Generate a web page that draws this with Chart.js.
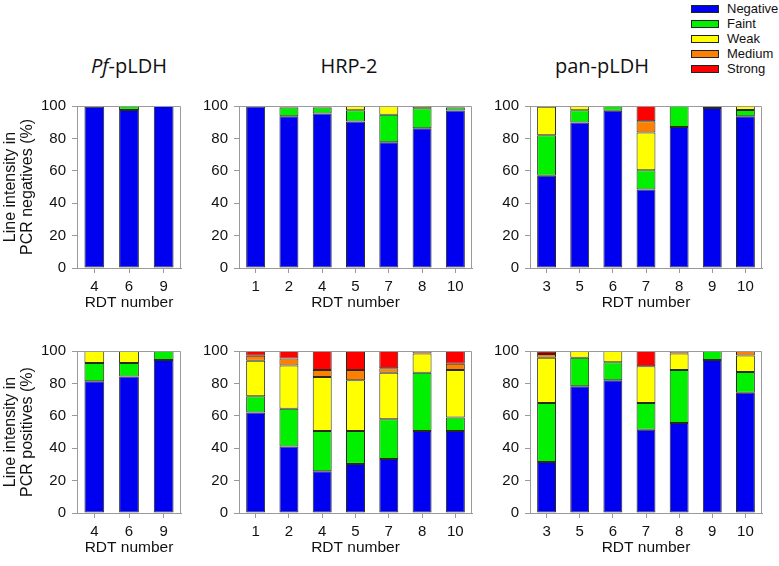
<!DOCTYPE html>
<html lang="en">
<head>
<meta charset="UTF-8">
<title>Line intensity per RDT</title>
<script src="https://cdn.jsdelivr.net/npm/chart.js"></script>
<style>
    body {
        margin: 0;
        width: 779px;
        height: 566px;
        position: relative;
        overflow: hidden;
        background: #fff;
        font-family: 'Liberation Sans', Arial, sans-serif;
        color: #111;
    }
    .painel { position: absolute; }
    .titulo {
        position: absolute;
        top: 54px;
        font-family: 'Open Sans', sans-serif;
        font-size: 20px;
        line-height: 24px;
        white-space: nowrap;
        transform: translateX(-50%);
    }
    #legenda { position: absolute; left: 691px; top: 1px; }
    .item {
        position: absolute;
        left: 0;
        height: 15px;
        line-height: 15px;
        font-size: 13px;
        white-space: nowrap;
    }
    .caixa {
        display: inline-block;
        width: 26px;
        height: 6px;
        border: 1px solid #222;
        margin-right: 8px;
        vertical-align: middle;
        position: relative;
        top: -1px;
    }
</style>
</head>
<body>
<div class="titulo" style="left:129px"><i>Pf</i>-pLDH</div>
<div class="titulo" style="left:349px">HRP-2</div>
<div class="titulo" style="left:602px">pan-pLDH</div>
<div id="legenda"></div>

<script>
    const seriesNames = ['Negative', 'Faint', 'Weak', 'Medium', 'Strong'];
    const seriesColors = ['#0000f0', '#00f000', '#ffff00', '#ff8000', '#ff0000'];

    const pfRdt = ['4', '6', '9'];
    const hrpRdt = ['1', '2', '4', '5', '7', '8', '10'];
    const panRdt = ['3', '5', '6', '7', '8', '9', '10'];
    const yTicks = [0, 20, 40, 60, 80, 100];

    // PCR negatives (%)
    const pfNegNegative = [99.6, 97.6, 100];
    const pfNegFaint = [0.4, 2.4, 0];
    const pfNegWeak = [0, 0, 0];
    const pfNegMedium = [0, 0, 0];
    const pfNegStrong = [0, 0, 0];

    const hrpNegNegative = [99.7, 93.6, 95.4, 90.4, 77.7, 86.3, 97.2];
    const hrpNegFaint = [0.3, 5.4, 3.6, 7.0, 16.9, 12.3, 1.8];
    const hrpNegWeak = [0, 1.0, 1.0, 2.6, 5.4, 1.4, 1.0];
    const hrpNegMedium = [0, 0, 0, 0, 0, 0, 0];
    const hrpNegStrong = [0, 0, 0, 0, 0, 0, 0];

    const panNegNegative = [57.0, 89.8, 97.0, 48.4, 87.0, 98.8, 93.6];
    const panNegFaint = [24.9, 7.6, 3.0, 12.0, 13.0, 1.2, 4.0];
    const panNegWeak = [17.6, 2.6, 0, 23.3, 0, 0, 2.4];
    const panNegMedium = [0.3, 0, 0, 6.9, 0, 0, 0];
    const panNegStrong = [0.2, 0, 0, 9.4, 0, 0, 0];

    // PCR positives (%)
    const pfPosNegative = [81.3, 84.3, 94.4];
    const pfPosFaint = [11.3, 8.3, 5.6];
    const pfPosWeak = [7.4, 7.4, 0];
    const pfPosMedium = [0, 0, 0];
    const pfPosStrong = [0, 0, 0];

    const hrpPosNegative = [62.0, 41.0, 25.7, 30.3, 33.3, 50.6, 50.6];
    const hrpPosFaint = [10.1, 23.3, 24.9, 20.3, 24.5, 35.9, 8.4];
    const hrpPosWeak = [21.9, 26.7, 33.4, 31.4, 28.8, 12.0, 29.2];
    const hrpPosMedium = [3.0, 4.4, 4.2, 6.2, 2.8, 1.5, 4.0];
    const hrpPosStrong = [3.0, 4.6, 11.8, 11.8, 10.6, 0, 7.8];

    const panPosNegative = [31.5, 78.3, 81.9, 51.4, 55.6, 94.4, 74.3];
    const panPosFaint = [36.4, 17.5, 11.1, 16.5, 32.6, 5.6, 12.7];
    const panPosWeak = [27.9, 4.2, 7.0, 22.7, 10.2, 0, 10.2];
    const panPosMedium = [2.4, 0, 0, 0, 1.6, 0, 2.8];
    const panPosStrong = [1.8, 0, 0, 9.4, 0, 0, 0];

    // legenda
    const legenda = document.getElementById('legenda');
    seriesNames.forEach(function (nome, i) {
        const linha = document.createElement('div');
        linha.className = 'item';
        linha.style.top = (i * 15) + 'px';
        const caixa = document.createElement('span');
        caixa.className = 'caixa';
        caixa.style.background = seriesColors[i];
        linha.appendChild(caixa);
        linha.appendChild(document.createTextNode(nome));
        legenda.appendChild(linha);
    });

    // moldura cinza em volta da area do grafico
    const moldura = {
        id: 'moldura',
        afterDatasetsDraw(chart) {
            const { ctx, chartArea: a } = chart;
            ctx.save();
            ctx.strokeStyle = '#9a9a9a';
            ctx.lineWidth = 1;
            ctx.beginPath();
            ctx.moveTo(a.left, a.top + 0.5);
            ctx.lineTo(a.right - 0.5, a.top + 0.5);
            ctx.lineTo(a.right - 0.5, a.bottom);
            ctx.stroke();
            ctx.restore();
        }
    };

    function desenhaPainel(p) {
        const caixa = document.createElement('div');
        caixa.className = 'painel';
        caixa.style.left = p.left + 'px';
        caixa.style.top = p.top + 'px';
        caixa.style.width = p.width + 'px';
        caixa.style.height = p.height + 'px';
        const canvas = document.createElement('canvas');
        caixa.appendChild(canvas);
        document.body.appendChild(caixa);

        const datasets = p.series.map(function (valores, i) {
            return {
                label: seriesNames[i],
                data: valores,
                backgroundColor: seriesColors[i],
                borderColor: '#2a2a1a',
                // segmentos vazios nao desenham contorno
                borderWidth: function (ctx) { return ctx.raw > 0 ? 1 : 0; },
                borderSkipped: false,
                barPercentage: 0.57,
                categoryPercentage: 1
            };
        });

        new Chart(canvas, {
            type: 'bar',
            data: { labels: p.labels, datasets: datasets },
            options: {
                responsive: true,
                maintainAspectRatio: false,
                animation: false,
                layout: { padding: { top: 10, right: 10, bottom: 0, left: 0 } },
                plugins: {
                    legend: { display: false },
                    tooltip: { enabled: false }
                },
                scales: {
                    x: {
                        stacked: true,
                        grid: { offset: false, drawOnChartArea: false, tickLength: 5, color: '#9a9a9a' },
                        border: { color: '#9a9a9a' },
                        ticks: { padding: 5, color: '#111', font: { family: 'Liberation Sans', size: 15 } },
                        title: {
                            display: true,
                            text: 'RDT number',
                            color: '#111',
                            padding: 0,
                            font: { family: 'Liberation Sans', size: 15.5 }
                        },
                        afterFit: function (scale) { scale.height = p.xHeight; }
                    },
                    y: {
                        stacked: true,
                        min: 0,
                        max: 100,
                        afterBuildTicks: function (scale) {
                            scale.ticks = yTicks.map(function (v) { return { value: v }; });
                        },
                        grid: { drawOnChartArea: false, tickLength: 5, color: '#9a9a9a' },
                        border: { color: '#9a9a9a' },
                        ticks: { padding: 6, color: '#111', font: { family: 'Liberation Sans', size: 15 } },
                        title: {
                            display: !!p.yTitle,
                            text: p.yTitle || '',
                            color: '#111',
                            padding: { top: 1.5, bottom: 0 },
                            font: { family: 'Liberation Sans', size: 16, lineHeight: 1.1 }
                        },
                        afterFit: function (scale) { scale.width = p.yWidth; }
                    }
                }
            },
            plugins: [moldura]
        });
    }

    // area do grafico: 167 px de altura, 10 px de folga em cima, 44 px para o eixo x
    const paineis = [
        { left: 0, top: 91, width: 191, height: 221, yWidth: 77, xHeight: 44, labels: pfRdt,
          yTitle: ['Line intensity in', 'PCR negatives (%)'],
          series: [pfNegNegative, pfNegFaint, pfNegWeak, pfNegMedium, pfNegStrong] },
        { left: 194, top: 91, width: 288, height: 221, yWidth: 45, xHeight: 44, labels: hrpRdt,
          series: [hrpNegNegative, hrpNegFaint, hrpNegWeak, hrpNegMedium, hrpNegStrong] },
        { left: 485, top: 91, width: 287, height: 221, yWidth: 45, xHeight: 44, labels: panRdt,
          series: [panNegNegative, panNegFaint, panNegWeak, panNegMedium, panNegStrong] },
        { left: 0, top: 336, width: 191, height: 221, yWidth: 77, xHeight: 44, labels: pfRdt,
          yTitle: ['Line intensity in', 'PCR positives (%)'],
          series: [pfPosNegative, pfPosFaint, pfPosWeak, pfPosMedium, pfPosStrong] },
        { left: 194, top: 336, width: 288, height: 221, yWidth: 45, xHeight: 44, labels: hrpRdt,
          series: [hrpPosNegative, hrpPosFaint, hrpPosWeak, hrpPosMedium, hrpPosStrong] },
        { left: 485, top: 336, width: 287, height: 221, yWidth: 45, xHeight: 44, labels: panRdt,
          series: [panPosNegative, panPosFaint, panPosWeak, panPosMedium, panPosStrong] }
    ];

    paineis.forEach(desenhaPainel);
</script>
</body>
</html>
